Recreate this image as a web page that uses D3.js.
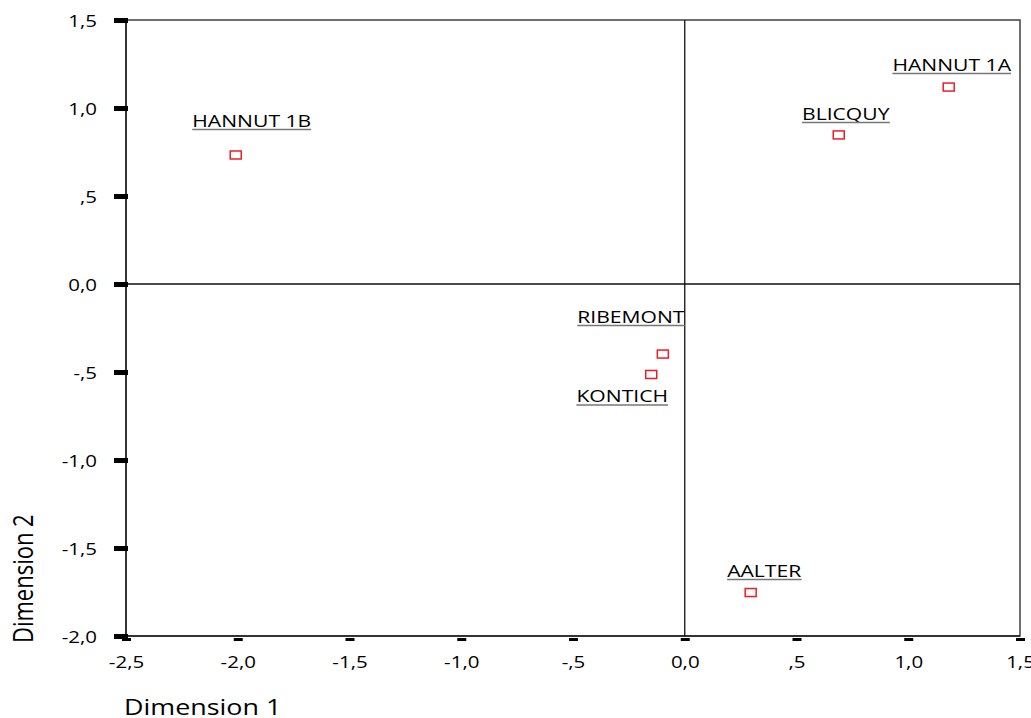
<!DOCTYPE html>
<html>
<head>
<meta charset="utf-8">
<script src="https://cdn.jsdelivr.net/npm/d3@7"></script>
<style>
  html, body { margin: 0; padding: 0; background: #fff; }
  svg { display: block; }
  text { font-family: "Open Sans", "Noto Sans", sans-serif; fill: #000; }
</style>
</head>
<body>
<svg id="chart" width="1031" height="718"></svg>
<script>
// ---- data ----
const sites = ["HANNUT 1B", "HANNUT 1A", "BLICQUY", "RIBEMONT", "KONTICH", "AALTER"];
const dim1  = [-2.009, 1.181, 0.689, -0.098, -0.150, 0.295];
const dim2  = [0.733, 1.119, 0.847, -0.398, -0.514, -1.753];
const xTicks = [-2.5, -2.0, -1.5, -1.0, -0.5, 0.0, 0.5, 1.0, 1.5];
const yTicks = [1.5, 1.0, 0.5, 0.0, -0.5, -1.0, -1.5, -2.0];
const xTitle = "Dimension 1";
const yTitle = "Dimension 2";

// ---- layout (pixel offsets of labels relative to their marker) ----
const labelOffset = {
  "HANNUT 1B": [16, -28],
  "HANNUT 1A": [3, -16],
  "BLICQUY":   [7, -15],
  "RIBEMONT":  [-32, -31],
  "KONTICH":   [-29, 28],
  "AALTER":    [13.5, -15.5]
};
const stretch = 1.28;

const W = 1031, H = 718;
const margin = {left: 126, right: 11, top: 20, bottom: 82};
const svg = d3.select("#chart");

const x = d3.scaleLinear().domain([-2.5, 1.5]).range([margin.left, W - margin.right]);
const y = d3.scaleLinear().domain([-2.0, 1.5]).range([H - margin.bottom, margin.top]);

function fmt(v) {
  if (v === 0) return "0,0";
  let s = Math.abs(v).toFixed(1).replace(".", ",");
  if (Math.abs(v) < 1) s = s.replace(/^0/, "");
  return (v < 0 ? "-" : "") + s;
}

// frame
svg.append("rect")
  .attr("x", x(-2.5)).attr("y", y(1.5))
  .attr("width", x(1.5) - x(-2.5)).attr("height", y(-2.0) - y(1.5))
  .attr("fill", "none").attr("stroke", "#333").attr("stroke-width", 1.4);
svg.append("line").attr("x1", x(-2.5)).attr("x2", x(-2.5)).attr("y1", y(1.5)).attr("y2", y(-2.0))
  .attr("stroke", "#333").attr("stroke-width", 2);
svg.append("line").attr("x1", x(-2.5)).attr("x2", x(1.5)).attr("y1", y(-2.0)).attr("y2", y(-2.0))
  .attr("stroke", "#333").attr("stroke-width", 2);

// reference lines at zero
svg.append("line").attr("x1", x(0)).attr("x2", x(0)).attr("y1", y(1.5)).attr("y2", y(-2.0))
  .attr("stroke", "#111").attr("stroke-width", 1.3);
svg.append("line").attr("x1", x(-2.5)).attr("x2", x(1.5)).attr("y1", y(0)).attr("y2", y(0))
  .attr("stroke", "#111").attr("stroke-width", 1.3);

// y axis
const gy = svg.append("g").attr("transform", `translate(${x(-2.5)},0)`)
  .call(d3.axisLeft(y).tickValues(yTicks).tickFormat(fmt).tickSize(12).tickPadding(0));
gy.select(".domain").remove();
gy.selectAll(".tick line").attr("x1", 2).attr("x2", -12).attr("stroke", "#000").attr("stroke-width", 5);
gy.selectAll(".tick text")
  .attr("x", 0).attr("dy", null).attr("y", 0)
  .attr("transform", `translate(-29,6) scale(${stretch},1)`)
  .attr("text-anchor", "end")
  .style("font-size", "16px").style("font-family", "'Open Sans', sans-serif").attr("fill", "#000");

// x axis
const gx = svg.append("g").attr("transform", `translate(0,${y(-2.0)})`)
  .call(d3.axisBottom(x).tickValues(xTicks).tickFormat(fmt).tickSize(5).tickPadding(0));
gx.select(".domain").remove();
gx.selectAll(".tick line").attr("x1", -4.5).attr("x2", 4.5).attr("y1", 3.5).attr("y2", 3.5)
  .attr("stroke", "#000").attr("stroke-width", 3);
gx.selectAll(".tick text")
  .attr("x", 0).attr("dy", null).attr("y", 0)
  .attr("transform", `translate(0,32) scale(${stretch},1)`)
  .attr("text-anchor", "middle")
  .style("font-size", "16px").style("font-family", "'Open Sans', sans-serif").attr("fill", "#000");

// axis titles
svg.append("text").text(xTitle)
  .attr("transform", `translate(124,715) scale(${stretch},1)`)
  .attr("text-anchor", "start").style("font-size", "21px");
svg.append("text").text(yTitle)
  .attr("transform", `translate(33,643) rotate(-90) scale(1,${stretch})`)
  .attr("text-anchor", "start").style("font-size", "22px");

// points
const pts = sites.map((s, i) => ({name: s, d1: dim1[i], d2: dim2[i]}));
svg.append("g").selectAll("rect").data(pts).join("rect")
  .attr("x", d => x(d.d1) - 5.5).attr("y", d => y(d.d2) - 4)
  .attr("width", 11).attr("height", 8)
  .attr("fill", "none").attr("stroke", "#ee1c25").attr("stroke-width", 1.5);

// labels with underline
const lg = svg.append("g").selectAll("g").data(pts).join("g")
  .attr("transform", d => {
    const o = labelOffset[d.name];
    return `translate(${x(d.d1) + o[0]},${y(d.d2) + o[1]}) scale(${stretch},1)`;
  });
lg.append("text").text(d => d.name).attr("text-anchor", "middle").style("font-size", "16.5px");
lg.each(function() {
  const g = d3.select(this);
  const bb = g.select("text").node().getBBox();
  g.append("line").attr("x1", bb.x).attr("x2", bb.x + bb.width).attr("y1", 2.5).attr("y2", 2.5)
    .attr("stroke", "#777").attr("stroke-width", 1.5);
});
</script>
</body>
</html>
